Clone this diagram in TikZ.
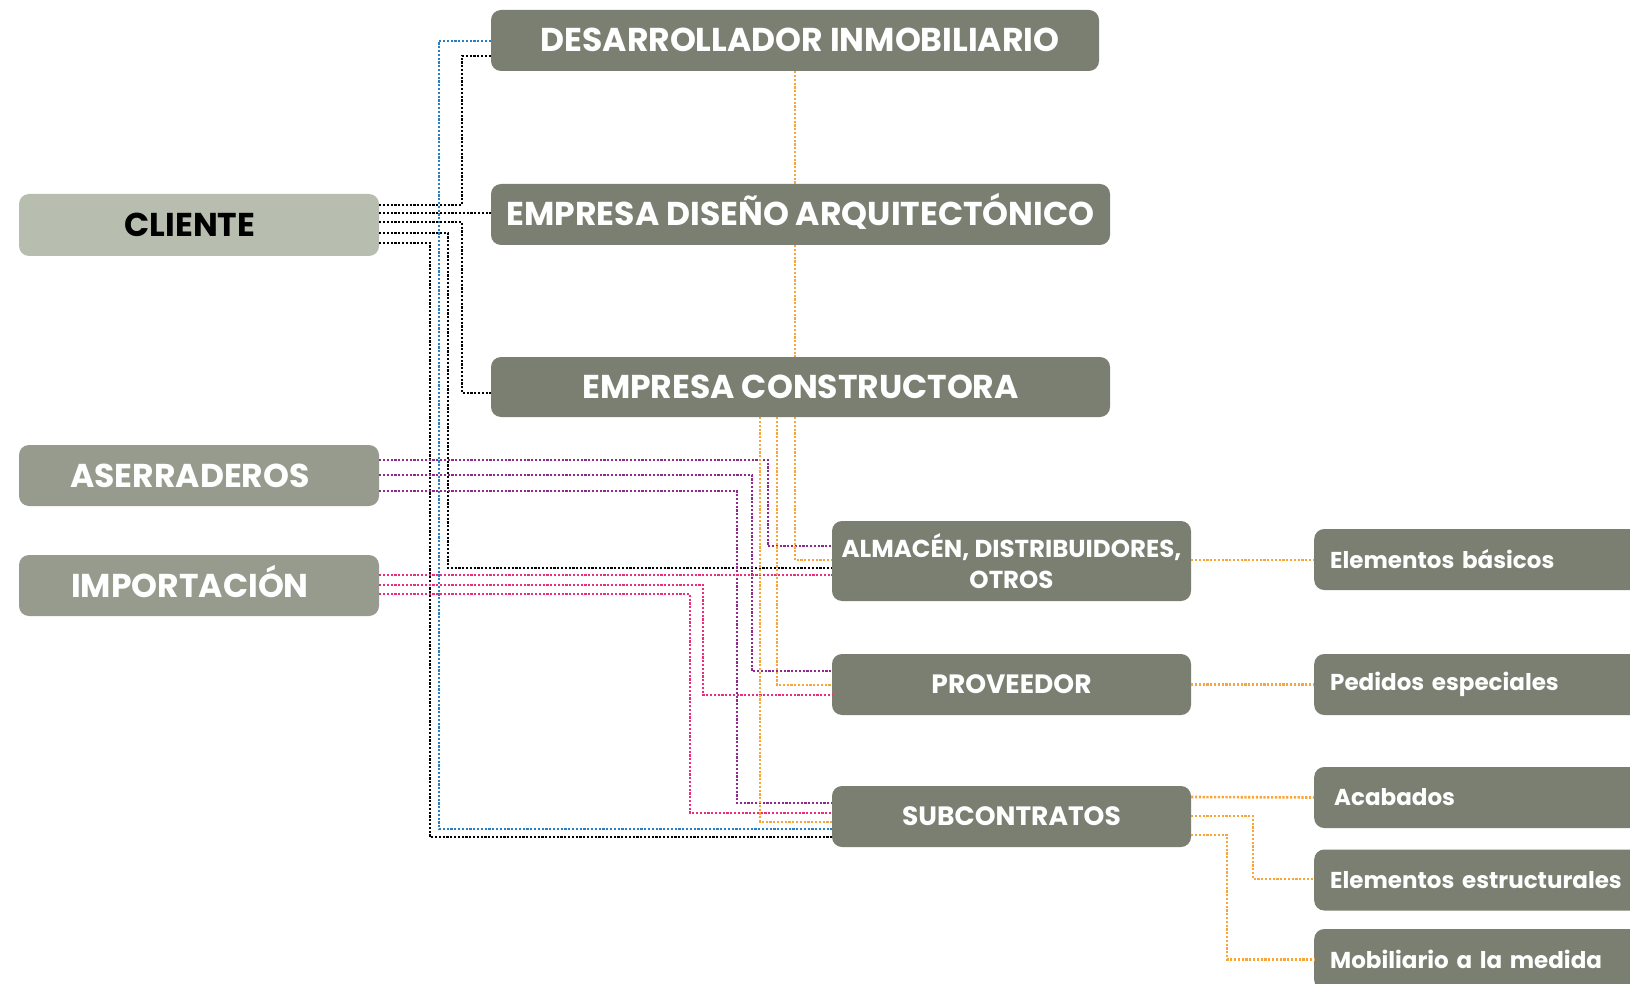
\documentclass[tikz,border=0pt]{standalone}
\usepackage{fontspec}
\setmainfont{Poppins}
\usepackage{tikz}

\definecolor{grisoscuro}{HTML}{7B7F72}
\definecolor{grisclaro}{HTML}{B8BEAF}
\definecolor{grismedio}{HTML}{979B8E}
\definecolor{azul}{HTML}{2A7FC4}
\definecolor{morado}{HTML}{8E2A8C}
\definecolor{rosa}{HTML}{EC2D7A}
\definecolor{naranja}{HTML}{F9A53A}

\begin{document}
\begin{tikzpicture}[x=1pt,y=-1pt]
\tikzstyle{every node} = [font = \bfseries]
\tikzstyle{caja} = [rectangle, rounded corners=10pt, fill=grisoscuro, text=white, inner sep=0pt]
\tikzstyle{grande} = [caja, text height=23pt, text depth=0pt, font=\bfseries\fontsize{33}{40}\selectfont]
\tikzstyle{media} = [caja, minimum width=359pt, font=\bfseries\fontsize{26.5}{31}\selectfont, align=center]
\tikzstyle{hoja} = [caja, anchor=west, minimum height=61pt, text width=330pt, inner xsep=16pt, align=left, font=\bfseries\fontsize{23}{30}\selectfont]
\tikzstyle{punteo} = [line width=2.6pt, dash pattern=on 2.2pt off 1.6pt]
\tikzstyle{negro} = [punteo, black]
\tikzstyle{azulado} = [punteo, azul]
\tikzstyle{morada} = [punteo, morado]
\tikzstyle{rosada} = [punteo, rosa]
\tikzstyle{naranjo} = [punteo, naranja]
	\useasboundingbox (0,0) rectangle (1630,984);
	% izquierda
	\node [grande, fill=grisclaro, text=black, minimum width=360pt, minimum height=62pt] (cliente) at (199,225) {\hspace{-18pt}CLIENTE};
	\node [grande, fill=grismedio, minimum width=360pt, minimum height=61pt] (aserraderos) at (199,475.5) {\hspace{-18pt}ASERRADEROS};
	\node [grande, fill=grismedio, minimum width=360pt, minimum height=61pt] (importacion) at (199,585.5) {\hspace{-18pt}IMPORTACIÓN};
	% arriba
	\node [grande, minimum width=608pt, minimum height=61pt] (desarrollador) at (795,40.5) {\hspace{10pt}DESARROLLADOR INMOBILIARIO};
	\node [grande, minimum width=619pt, minimum height=61pt] (diseno) at (800.5,214.5) {EMPRESA DISEÑO ARQUITECTÓNICO};
	\node [grande, minimum width=619pt, minimum height=60pt] (constructora) at (800.5,387) {EMPRESA CONSTRUCTORA};
	% centro
	\node [media, minimum height=80pt, font=\bfseries\fontsize{24.5}{31}\selectfont] (almacen) at (1011.5,561) {ALMACÉN, DISTRIBUIDORES,\\OTROS};
	\node [media, minimum height=61pt] (proveedor) at (1011.5,684.5) {PROVEEDOR};
	\node [media, minimum height=61pt] (subcontratos) at (1011.5,816.5) {SUBCONTRATOS};
	% derecha
	\node [hoja] (basicos) at (1314,559.5) {Elementos básicos};
	\node [hoja] (especiales) at (1314,684.5) {Pedidos especiales};
	\node [hoja] (acabados) at (1314,797.5) {\hspace{4pt}Acabados};
	\node [hoja] (estructurales) at (1314,880) {Elementos estructurales};
	\node [hoja] (mobiliario) at (1314,959.5) {Mobiliario a la medida};

	% cliente
	\draw [negro] (cliente.east |- 0,205) -| (462,56) -- (desarrollador.west |- 0,56);
	\draw [negro] (cliente.east |- 0,213) -- (diseno.west |- 0,213);
	\draw [negro] (cliente.east |- 0,222) -| (462,393) -- (constructora.west |- 0,393);
	\draw [negro] (cliente.east |- 0,233) -| (448,568) -- (almacen.west |- 0,568);
	\draw [negro] (cliente.east |- 0,243) -| (430,837) -- (subcontratos.west |- 0,837);
	\draw [azulado] (desarrollador.west |- 0,41) -| (439,829) -- (subcontratos.west |- 0,829);
	% aserraderos
	\draw [morada] (aserraderos.east |- 0,460) -| (768,546) -- (almacen.west |- 0,546);
	\draw [morada] (aserraderos.east |- 0,475) -| (752,671) -- (proveedor.west |- 0,671);
	\draw [morada] (aserraderos.east |- 0,491) -| (737,803) -- (subcontratos.west |- 0,803);
	% importacion
	\draw [rosada] (importacion.east |- 0,575) -- (almacen.west |- 0,575);
	\draw [rosada] (importacion.east |- 0,585) -| (703,695) -- (proveedor.west |- 0,695);
	\draw [rosada] (importacion.east |- 0,594) -| (690,813) -- (subcontratos.west |- 0,813);
	% cadena
	\draw [naranjo] (desarrollador.south) -- (diseno.north -| desarrollador.south);
	\draw [naranjo] (diseno.south -| desarrollador.south) -- (constructora.north -| desarrollador.south);
	\draw [naranjo] (constructora.south -| 795,0) |- (almacen.west |- 0,560);
	\draw [naranjo] (constructora.south -| 777,0) |- (proveedor.west |- 0,685);
	\draw [naranjo] (constructora.south -| 760,0) |- (subcontratos.west |- 0,822);
	\draw [naranjo] (almacen.east |- 0,560) -- (basicos.west |- 0,560);
	\draw [naranjo] (proveedor.east) -- (especiales.west);
	\draw [naranjo] (subcontratos.east |- 0,797) -- (acabados.west);
	\draw [naranjo] (subcontratos.east |- 0,816) -| (1253,879) -- (estructurales.west |- 0,879);
	\draw [naranjo] (subcontratos.east |- 0,835) -| (1227,959.5) -- (mobiliario.west);
\end{tikzpicture}
\end{document}
